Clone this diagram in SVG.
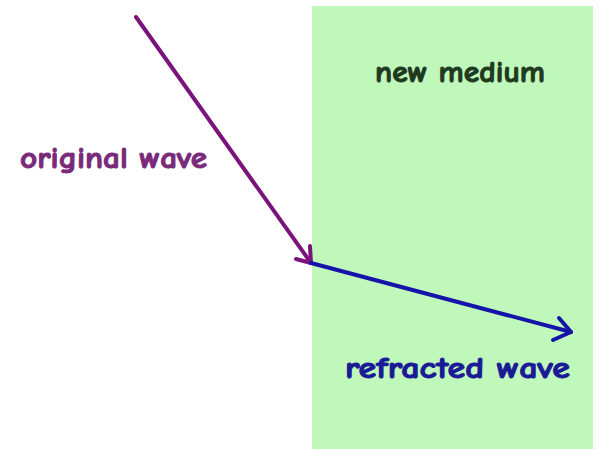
<svg xmlns="http://www.w3.org/2000/svg" width="602" height="449" viewBox="0 0 602 449">
<style>
.lbl{font-family:"Comic Neue","Liberation Sans","DejaVu Sans",sans-serif;font-weight:bold;font-size:30px;stroke-width:1;}
.wave{fill:none;stroke-width:4;stroke-linecap:round;stroke-linejoin:round;}
</style>
<rect width="602" height="449" fill="#ffffff"/>
<g id="medium">
<rect x="312" y="6" width="281" height="443" fill="#c0f8bc"/>
<text class="lbl" x="375" y="82" textLength="170" lengthAdjust="spacingAndGlyphs" fill="#1f3a1f" stroke="#1f3a1f">new medium</text>
</g>
<g id="connectors">
<path class="wave" d="M136,17 L311,263" stroke="#7a137a"/>
<path class="wave" d="M310,246 L311,263 L296,259" stroke="#7a137a"/>
<path class="wave" d="M311,263 L571,332" stroke="#1414a8"/>
<path class="wave" d="M559,318 L571,332 L553,340" stroke="#1414a8"/>
</g>
<g id="original">
<text class="lbl" x="20" y="168" textLength="187" lengthAdjust="spacingAndGlyphs" fill="#7a2a7a" stroke="#7a2a7a">original wave</text>
</g>
<g id="refracted">
<text class="lbl" x="345" y="378" textLength="225" lengthAdjust="spacingAndGlyphs" fill="#1a1a96" stroke="#1a1a96">refracted wave</text>
</g>
</svg>
